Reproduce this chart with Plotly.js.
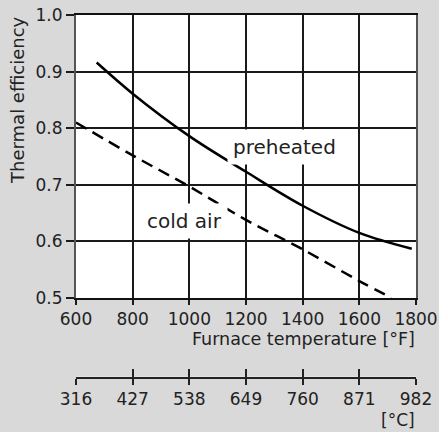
<!DOCTYPE html>
<html>
<head>
<meta charset="utf-8">
<script src="https://cdn.plot.ly/plotly-3.0.1.min.js"></script>
<style>html,body{margin:0;padding:0;background:#d9d9d9;}</style>
</head>
<body>
<div id="chart" style="width:439px;height:432px;"></div>
<script>
// Data
const preheatedTempF = [673, 800, 1000, 1200, 1400, 1600, 1785];
const preheatedEff   = [0.916, 0.861, 0.786, 0.723, 0.663, 0.615, 0.587];
const coldAirTempF   = [600, 800, 1000, 1200, 1400, 1600, 1714];
const coldAirEff     = [0.810, 0.752, 0.697, 0.638, 0.586, 0.530, 0.500];
const fTicks = [600, 800, 1000, 1200, 1400, 1600, 1800];
const cTickLabels = ['316', '427', '538', '649', '760', '871', '982'];
const yTicks = [0.5, 0.6, 0.7, 0.8, 0.9, 1.0];
const yTickLabels = ['0.5', '0.6', '0.7', '0.8', '0.9', '1.0'];

const toC = f => (f - 32) * 5 / 9;
const cTickVals = fTicks.map(toC);
const fRange = [600, 1800];
const cRange = fRange.map(toC);

const FONT = 'DejaVu Sans, sans-serif';
const TXT = '#222';
const GRID = '#1a1a1a';

const traces = [
  {x: preheatedTempF, y: preheatedEff, mode: 'lines', line: {color: '#000', width: 2.5, shape: 'spline'}},
  {x: coldAirTempF, y: coldAirEff, mode: 'lines', line: {color: '#000', width: 2.5, dash: '12px,7px', shape: 'spline'}},
  {x: cTickVals, y: cTickVals.map(() => null), xaxis: 'x2', yaxis: 'y2', mode: 'lines'},
  {x: cTickVals, y: cTickVals.map(() => null), xaxis: 'x3', yaxis: 'y3', mode: 'lines'}
];

const layout = {
  width: 439, height: 432,
  margin: {l: 76, r: 23, t: 15, b: 55},
  paper_bgcolor: '#d9d9d9',
  plot_bgcolor: '#ffffff',
  showlegend: false,
  font: {family: FONT, size: 17, color: TXT},
  xaxis: {
    domain: [0, 1], anchor: 'y',
    range: fRange, tickvals: fTicks, ticktext: fTicks.map(String),
    showgrid: true, gridcolor: GRID, gridwidth: 2,
    showline: true, mirror: true, linecolor: '#111', linewidth: 2,
    ticks: 'outside', ticklen: 5, tickwidth: 2, tickcolor: GRID,
    zeroline: false,
    tickfont: {family: FONT, size: 17, color: TXT}
  },
  yaxis: {
    domain: [0.2182, 1], anchor: 'x',
    range: [0.5, 1.0], tickvals: yTicks, ticktext: yTickLabels,
    showgrid: true, gridcolor: GRID, gridwidth: 2,
    showline: true, mirror: true, linecolor: '#555', linewidth: 2,
    ticks: 'outside', ticklen: 8, tickwidth: 2, tickcolor: GRID,
    zeroline: false,
    tickfont: {family: FONT, size: 17, color: TXT}
  },
  xaxis2: {
    domain: [0, 1], anchor: 'y2',
    range: cRange, tickvals: cTickVals, ticktext: cTickLabels,
    showgrid: false, zeroline: false,
    showline: true, linecolor: '#222', linewidth: 2,
    ticks: 'outside', ticklen: 6, tickwidth: 2, tickcolor: '#222',
    tickfont: {family: FONT, size: 17, color: TXT}
  },
  yaxis2: {domain: [0, 0.0005], anchor: 'x2', range: [0, 1], visible: false},
  xaxis3: {
    domain: [0, 1], anchor: 'y3',
    range: cRange, tickvals: cTickVals,
    showgrid: false, zeroline: false, showline: false,
    showticklabels: false,
    ticks: 'inside', ticklen: 8, tickwidth: 2, tickcolor: '#222'
  },
  yaxis3: {domain: [0, 0.0005], anchor: 'x3', range: [0, 1], visible: false},
  annotations: [
    {text: 'preheated', x: 1336, y: 0.767, xref: 'x', yref: 'y', showarrow: false,
     bgcolor: '#ffffff', borderpad: 5, font: {family: FONT, size: 20, color: TXT}},
    {text: 'cold air', x: 983, y: 0.636, xref: 'x', yref: 'y', showarrow: false,
     bgcolor: '#ffffff', borderpad: 5, font: {family: FONT, size: 20, color: TXT}},
    {text: 'Furnace temperature [°F]', x: 417, xref: 'paper', xanchor: 'right',
     y: 339, yref: 'paper', yanchor: 'middle', showarrow: false,
     font: {family: FONT, size: 17.5, color: TXT}},
    {text: '[°C]', x: 417, xref: 'paper', xanchor: 'right',
     y: 420, yref: 'paper', yanchor: 'middle', showarrow: false,
     font: {family: FONT, size: 17, color: TXT}},
    {text: 'Thermal efficiency', textangle: -90, x: 17, xref: 'paper', xanchor: 'center',
     y: 100, yref: 'paper', yanchor: 'middle', showarrow: false,
     font: {family: FONT, size: 18, color: TXT}}
  ]
};

// Convert pixel-placed title positions to paper coordinates
const plotW = 439 - 76 - 23, plotH = 432 - 15 - 55;
layout.annotations.forEach(a => {
  if (a.xref === 'paper' && a.x > 1) a.x = (a.x - 76) / plotW;
  if (a.yref === 'paper' && a.y > 1) a.y = 1 - (a.y - 15) / plotH;
});

Plotly.newPlot('chart', traces, layout, {displayModeBar: false, staticPlot: true});
</script>
</body>
</html>
